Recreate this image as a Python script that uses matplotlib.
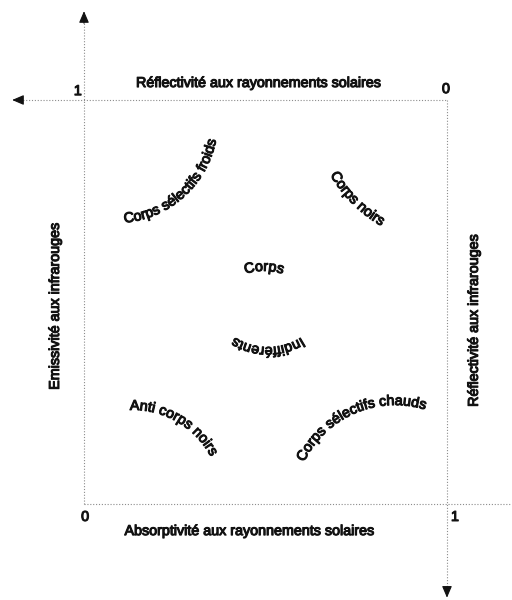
import numpy as np
import matplotlib.pyplot as plt
import matplotlib.patheffects as pe
from matplotlib.textpath import TextToPath
from matplotlib.font_manager import FontProperties

# Axis titles (the diagram is the unit square: absorptivity 0..1 vs emissivity 0..1)
top_title = "Réflectivité aux rayonnements solaires"
bottom_title = "Absorptivité aux rayonnements solaires"
left_title = "Emissivité aux infrarouges"
right_title = "Réflectivité aux infrarouges"

# Corner values of the square
corner_labels = ["1", "0", "0", "1"]

# Families of bodies, written along arcs
body_labels = ["Corps sélectifs froids", "Corps noirs", "Corps", "Indifférents",
               "Anti corps noirs", "Corps sélectifs chauds"]

# --- layout (not data) ---
corner_x = [-0.017, 0.997, 0.003, 1.022]
corner_y = [1.022, 1.027, -0.032, -0.032]

arc_cx = [0.088, 1.014, 0.496, 0.507, 0.135, 0.857]
arc_cy = [0.948, 0.990, 0.426, 0.542, 0.015, -0.005]
arc_r = [102, 141, 61, 62, 88, 101]          # baseline radius, pixels
arc_mid = [-48, -135, 90, -90, 60, 113.5]    # degrees
arc_inside = [True, True, False, False, False, False]

ink = "#121212"
prop = FontProperties(family="Liberation Sans", size=10.3)
thick = [pe.withStroke(linewidth=0.8, foreground=ink)]

fig = plt.figure(figsize=(5.12, 6.0), dpi=100)
ax = fig.add_axes([0, 0, 1, 1])
ax.set_xlim(-0.2314, 1.1791)
ax.set_ylim(-0.2376, 1.2475)
ax.axis("off")

# dotted frame lines
line_kw = dict(color="#8c8c8c", lw=0.8, ls=(0, (1, 1.6)))
ax.plot([0, 0], [0, 1.19], **line_kw)
ax.plot([-0.185, 1.0], [1, 1], **line_kw)
ax.plot([1, 1], [1, -0.205], **line_kw)
ax.plot([0, 1.18], [0, 0], **line_kw)

# arrow heads
head = dict(arrowstyle="-|>,head_length=0.7,head_width=0.3", color=ink,
            lw=0.8, shrinkA=0, shrinkB=0)
ax.annotate("", xy=(0, 1.22), xytext=(0, 1.19), arrowprops=head)
ax.annotate("", xy=(-0.198, 1), xytext=(-0.17, 1), arrowprops=head)
ax.annotate("", xy=(1, -0.232), xytext=(1, -0.205), arrowprops=head)

# corner values
for t, x, y in zip(corner_labels, corner_x, corner_y):
    ax.text(x, y, t, ha="center", va="center", fontproperties=prop,
            color=ink, path_effects=thick)

# axis titles
ax.text(0.482, 1.042, top_title, ha="center", va="center",
        fontproperties=prop, color=ink, path_effects=thick)
ax.text(0.457, -0.067, bottom_title, ha="center", va="center",
        fontproperties=prop, color=ink, path_effects=thick)
ax.text(-0.080, 0.49, left_title, ha="center", va="center", rotation=90,
        fontproperties=prop, color=ink, path_effects=thick)
ax.text(1.074, 0.455, right_title, ha="center", va="center", rotation=90,
        fontproperties=prop, color=ink, path_effects=thick)


def curved_text(text, cx, cy, r, mid, inside):
    """Writes text along a circle of baseline radius r (pixels) around (cx, cy)."""
    ttp = TextToPath()
    scale = fig.dpi / 72.0
    adv = [0.0]
    for i in range(1, len(text) + 1):
        adv.append(ttp.get_text_width_height_descent(text[:i], prop, ismath=False)[0] * scale)
    total = adv[-1]
    ox, oy = ax.transData.transform((cx, cy))
    inv = ax.transData.inverted()
    sign = 1 if inside else -1
    start = np.radians(mid) - sign * total / (2 * r)
    for i, ch in enumerate(text):
        if ch == " ":
            continue
        s = (adv[i] + adv[i + 1]) / 2
        phi = start + sign * s / r
        x, y = inv.transform((ox + r * np.cos(phi), oy + r * np.sin(phi)))
        rot = np.degrees(phi) + (90 if inside else -90)
        ax.text(x, y, ch, rotation=rot, rotation_mode="anchor", ha="center",
                va="baseline", fontproperties=prop, color=ink, path_effects=thick)


for i in range(len(body_labels)):
    curved_text(body_labels[i], arc_cx[i], arc_cy[i], arc_r[i], arc_mid[i], arc_inside[i])

fig.savefig("out.png", dpi=100, facecolor="white")
